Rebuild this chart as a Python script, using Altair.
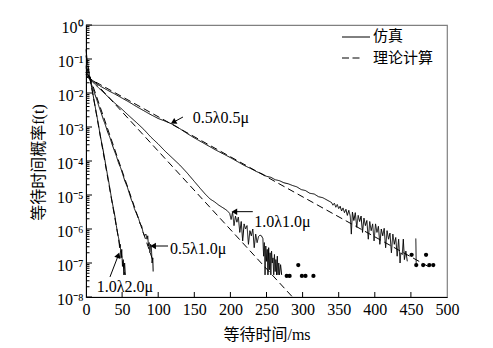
import altair as alt
import pandas as pd

SERIF = "Liberation Serif, Noto Sans CJK SC"
CJK = "Noto Sans CJK SC"

# ---------------- values ----------------
# simulation curves (solid): waiting time t (ms) and log10 f(t)
simA_x = [0, 5, 10, 20, 30, 40, 50, 60, 70, 80, 90, 100, 110, 120, 130, 140, 150, 160, 170, 180, 190, 200,
          210, 220, 228, 236, 244, 250, 256, 262, 268, 274, 280, 286, 292, 298, 304, 310, 316, 322, 328, 334,
          340, 342, 344, 346, 348, 350, 352, 354, 356, 358, 360, 362, 364, 366, 367.5, 369, 371, 373, 375, 377,
          379, 381, 383, 385, 387, 389, 391, 393, 395, 397, 399, 401, 403, 405, 407, 409, 411, 413, 415, 417,
          419, 421, 423, 425, 427, 429, 431, 433, 435, 436, 438, 439.5, 441, 443, 445]
simA_lg = [-1.4, -1.55, -1.65, -1.8, -1.92, -2.03, -2.15, -2.27, -2.4, -2.52, -2.64, -2.75, -2.83, -2.92, -3.05,
           -3.19, -3.32, -3.44, -3.56, -3.68, -3.79, -3.9, -4.02, -4.14, -4.22, -4.31, -4.38, -4.45, -4.48, -4.55,
           -4.58, -4.64, -4.67, -4.72, -4.76, -4.84, -4.87, -4.95, -4.97, -5.05, -5.08, -5.15,
           -5.22, -5.3, -5.24, -5.36, -5.28, -5.4, -5.33, -5.47, -5.38, -5.52,
           -5.42, -5.6, -5.45, -5.62, -6.15, -5.5, -5.75, -5.52, -5.95, -5.6,
           -5.78, -5.62, -6.1, -5.68, -5.9, -5.75, -6.3, -5.78, -6.05, -5.85,
           -6.35, -5.85, -6.1, -5.92, -6.45, -6.0, -6.2, -5.98, -6.55, -6.05,
           -6.3, -6.12, -6.7, -6.15, -6.45, -6.25, -6.8, -6.3, -7.0, -6.7,
           -6.75, -6.3, -6.9, -6.65, -6.95]
simA2_x = [456.8, 457.4]
simA2_lg = [-6.28, -7.06]
dotA_x = [451, 457.4, 467, 471, 475.5, 481]
dotA_lg = [-6.76, -7.06, -7.06, -6.76, -7.06, -7.06]

simB_x = [0, 5, 10, 20, 30, 40, 50, 60, 70, 80, 90, 100, 110, 120, 130, 140, 150, 158, 165, 172,
          178, 184, 190, 195, 199, 201, 203, 205, 207, 209, 211, 213, 215, 217, 219, 221, 223, 225, 227, 229,
          231, 233, 235, 237, 239, 241, 243, 245, 246, 247, 248, 249, 250, 251, 252, 253, 254, 255, 256, 257,
          258, 259, 260, 261, 262, 263, 264, 265, 266, 267, 268, 269.5, 271]
simB_lg = [-1.45, -1.57, -1.69, -1.9, -2.1, -2.3, -2.48, -2.68, -2.87, -3.07, -3.3, -3.5, -3.72, -3.92, -4.12,
           -4.35, -4.6, -4.8, -4.97, -5.12, -5.2, -5.3, -5.38, -5.45, -5.54,
           -5.72, -5.5, -5.9, -5.62, -5.8, -5.65, -6.1, -5.78, -6.35, -5.85,
           -6.0, -5.9, -6.45, -6.05, -6.2, -6.0, -6.55, -6.15, -6.4, -6.22,
           -6.18, -6.2, -6.28, -6.8, -6.4, -7.35, -6.5, -6.95, -6.6, -7.35,
           -6.55, -7.2, -6.7, -7.35, -6.65, -7.0, -6.85, -7.35, -6.75, -7.25,
           -6.9, -7.35, -6.8, -7.35, -7.0, -7.35, -7.05, -7.35]
simB2_x = [278, 282]
simB2_lg = [-7.38, -7.38]
dotB_x = [278, 282, 294, 299, 304, 315]
dotB_lg = [-7.38, -7.38, -7.06, -7.38, -7.38, -7.38]

simC_x = [0, 3, 6, 9, 12, 15, 18, 21, 24, 27, 30, 33, 36, 39, 42, 45, 48, 51, 54, 57, 60, 63, 65, 67, 69, 71,
          73, 75, 77, 79, 81, 83, 84.5, 85.5, 86.5, 87.5, 88.5, 89.5, 90.5, 91.5, 92.5, 93]
simC_lg = [-1.25, -1.45, -1.65, -1.83, -2.02, -2.2, -2.4, -2.58, -2.78, -2.95, -3.15, -3.3, -3.5, -3.68, -3.85,
           -4.05, -4.2, -4.4, -4.6, -4.75, -4.95, -5.15, -5.25, -5.4, -5.5, -5.6, -5.7, -5.85, -5.9, -6.1,
           -6.2, -6.15, -6.3, -6.2, -6.5, -6.4, -6.7, -6.45, -6.5, -7.0, -6.85, -7.25]

simD_x = [0, 2, 5, 8, 11, 14, 17, 20, 23, 26, 28.5, 31, 33, 35.5, 38, 40, 42, 44, 45.5, 46.5, 47.5, 48.5,
          49.5, 50.5, 51.5, 52.5, 53.5, 54.5]
simD_lg = [-0.72, -1.1, -1.5, -1.85, -2.2, -2.55, -2.9, -3.28, -3.6, -3.95, -4.26, -4.55, -4.8, -5.12, -5.4,
           -5.62, -5.9, -6.15, -6.3, -6.55, -6.45, -6.85, -6.6, -7.1, -6.9, -7.35, -7.0, -7.35]

# theoretical curves (dashed): straight lines on the log axis, end points
thA_x, thA_lg = [0, 479], [-1.52, -7.16]
thB_x, thB_lg = [0, 286], [-1.4, -8.0]
thC_x, thC_lg = [0, 93], [-1.2, -6.95]
thD_x, thD_lg = [0, 54], [-0.9, -7.35]

# annotations
ann_text = ["0.5λ0.5μ", "1.0λ1.0μ", "0.5λ1.0μ", "1.0λ2.0μ"]
ann_x = [148, 233, 116.5, 15]
ann_lg = [-2.74, -5.79, -6.59, -7.7]
arr_x1 = [134.3, 231, 113.6, 33.2]
arr_lg1 = [-2.706, -5.49, -6.5, -7.41]
arr_x2 = [121, 205.5, 93, 44.8]
arr_lg2 = [-2.86, -5.49, -6.5, -6.77]
arr_ang = [331, 0, 0, 110]

x_ticks = list(range(0, 501, 50))
decades = list(range(0, -9, -1))
legend_labels = ["仿真", "理论计算"]

# ---------------- tables ----------------
rows = []
def add(seg, kind, xs, lgs):
    for x, g in zip(xs, lgs, strict=True):
        rows.append({"seg": seg, "kind": kind, "t": x, "p": 10 ** g})

add("A", "sim", simA_x, simA_lg)
add("A2", "sim", simA2_x, simA2_lg)
add("B", "sim", simB_x, simB_lg)
add("B2", "sim", simB2_x, simB2_lg)
add("C", "sim", simC_x, simC_lg)
add("D", "sim", simD_x, simD_lg)
add("tA", "theory", thA_x, thA_lg)
add("tB", "theory", thB_x, thB_lg)
add("tC", "theory", thC_x, thC_lg)
add("tD", "theory", thD_x, thD_lg)
line_df = pd.DataFrame(rows)

dot_df = pd.DataFrame({"t": dotA_x + dotB_x, "p": [10 ** g for g in dotA_lg + dotB_lg]})

ann_df = pd.DataFrame({"label": ann_text, "t": ann_x, "p": [10 ** g for g in ann_lg]})
arr_df = pd.DataFrame({"t": arr_x1, "p": [10 ** g for g in arr_lg1],
                       "t2": arr_x2, "p2": [10 ** g for g in arr_lg2], "ang": arr_ang})

major_df = pd.DataFrame({"p": [10.0 ** n for n in decades]})
minor_df = pd.DataFrame({"p": [k * 10.0 ** n for n in range(-8, 0) for k in range(2, 10)]})
xtick_df = pd.DataFrame({"t": x_ticks[1:-1]})

# ---------------- scales / axes ----------------
xscale = alt.Scale(type="linear", domain=[0, 500], nice=False, zero=False)
yscale = alt.Scale(type="log", domain=[1e-8, 1], nice=False)

sup = {"0": "⁰", "1": "¹", "2": "²", "3": "³", "4": "⁴", "5": "⁵", "6": "⁶", "7": "⁷", "8": "⁸", "9": "⁹", "-": "⁻"}
expr = ""
for n in decades:
    s = "".join(sup[c] for c in str(n))
    expr += f"datum.value > {0.5 * 10.0 ** n} ? '10{s}' : "
expr += "''"

xaxis = alt.Axis(values=x_ticks, ticks=False, tickSize=0, grid=False, domainColor="black", domainWidth=1,
                 labelFont=SERIF, labelFontSize=16, labelColor="black", labelPadding=4, labelFlush=False,
                 labelOverlap=False, title="等待时间/ms", titleFont=SERIF, titleFontSize=16,
                 titleFontWeight="normal", titleColor="black", titleX=180.5, titleY=37,
                 titleBaseline="middle", titleAlign="center")
yaxis = alt.Axis(values=[10.0 ** n for n in decades], ticks=False, tickSize=0, grid=False, domainColor="black",
                 domainWidth=1, labelFont=SERIF, labelFontSize=16, labelColor="black", labelPadding=3,
                 labelFlush=False, labelOverlap=False, labelExpr=expr, labelOffset=2,
                 title="等待时间概率f(t)", titleFont=SERIF, titleFontSize=16, titleFontWeight="normal",
                 titleColor="black", titleX=-48, titleY=137, titleAngle=270, titleBaseline="middle",
                 titleAlign="center")

X = lambda f="t": alt.X(f"{f}:Q", scale=xscale, axis=xaxis)
Y = lambda f="p": alt.Y(f"{f}:Q", scale=yscale, axis=yaxis)

lines = alt.Chart(line_df).mark_line(strokeWidth=1, color="black").encode(
    x=X(), y=Y(),
    detail="seg:N",
    strokeDash=alt.StrokeDash("kind:N", scale=alt.Scale(domain=["sim", "theory"], range=[[1, 0], [7, 4]]),
                              legend=None),
)

dots = alt.Chart(dot_df).mark_point(filled=True, size=18, color="black", opacity=1).encode(x=X(), y=Y())

ymaj = alt.Chart(major_df).mark_rule(color="black", strokeWidth=1).encode(
    y=Y(), x=alt.value(0), x2=alt.value(6))
ymin = alt.Chart(minor_df).mark_rule(color="black", strokeWidth=1).encode(
    y=Y(), x=alt.value(0), x2=alt.value(3.5))
xt = alt.Chart(xtick_df).mark_rule(color="black", strokeWidth=1).encode(
    x=X(), y=alt.value(272), y2=alt.value(267))

shafts = alt.Chart(arr_df).mark_rule(color="black", strokeWidth=1).encode(
    x=X(), y=Y(), x2="t2:Q", y2="p2:Q")
heads = alt.Chart(arr_df).mark_point(shape="triangle-left", filled=True, size=42, color="black", opacity=1).encode(
    x=X("t2"), y=Y("p2"), angle=alt.Angle("ang:Q", scale=None))

ann = alt.Chart(ann_df).mark_text(align="left", baseline="middle", font=SERIF, fontSize=16, color="black").encode(
    x=X(), y=Y(), text="label:N")

one = pd.DataFrame({"a": [0]})
leg1 = alt.Chart(one).mark_rule(color="black", strokeWidth=1).encode(x=alt.value(256), x2=alt.value(284), y=alt.value(12))
leg2 = alt.Chart(one).mark_rule(color="black", strokeWidth=1, strokeDash=[7, 3.5]).encode(
    x=alt.value(256), x2=alt.value(274.5), y=alt.value(33))
legt1 = alt.Chart(one).mark_text(align="left", baseline="middle", font=CJK, fontSize=15, color="black").encode(
    x=alt.value(287), y=alt.value(10.5), text=alt.value(legend_labels[0]))
legt2 = alt.Chart(one).mark_text(align="left", baseline="middle", font=CJK, fontSize=15, color="black").encode(
    x=alt.value(287), y=alt.value(33), text=alt.value(legend_labels[1]))

chart = alt.layer(lines, dots, ymaj, ymin, xt, shafts, heads, ann, leg1, leg2, legt1, legt2).properties(
    width=361, height=272,
    padding={"left": 86, "top": 25, "right": 46, "bottom": 51},
    autosize=alt.AutoSizeParams(type="none"),
    background="white",
).configure_view(stroke="#808080", strokeWidth=1.2)

chart.save("out.html", embed_options={"renderer": "svg", "actions": False})
